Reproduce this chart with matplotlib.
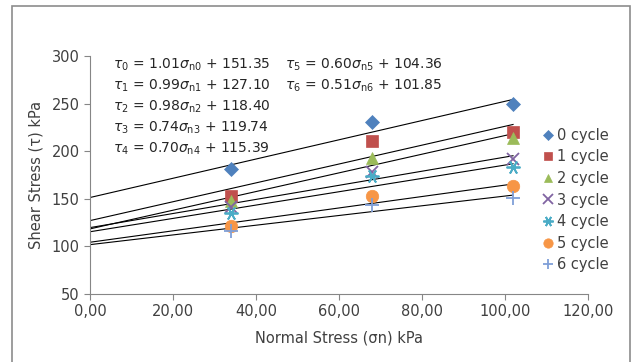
import numpy as np
import matplotlib
matplotlib.use("Agg")
import matplotlib.pyplot as plt
from matplotlib.patches import Rectangle
from matplotlib.ticker import FuncFormatter

plt.rcParams["font.family"] = ["DejaVu Sans"]
plt.rcParams["mathtext.fontset"] = "dejavusans"

# normal stress (kPa) and shear stress per cycle count
sigma_n = [34, 68, 102]
cycles = ["0 cycle", "1 cycle", "2 cycle", "3 cycle", "4 cycle", "5 cycle", "6 cycle"]
tau = [
    [181, 231, 250],
    [153, 211, 220.5],
    [148, 193, 214],
    [141, 178, 191.5],
    [135, 174, 183],
    [121, 153, 163],
    [116, 144, 151],
]
# linear fits tau = a * sigma_n + b
slopes = [1.01, 0.99, 0.98, 0.74, 0.70, 0.60, 0.51]
intercepts = [151.35, 127.10, 118.40, 119.74, 115.39, 104.36, 101.85]

colors = ["#4f81bd", "#c0504d", "#9bbb59", "#8064a2", "#4bacc6", "#f79646", "#7f9fd8"]
markers = ["D", "s", "^", "x", (6, 2, 90), "o", "+"]
sizes = [7, 8.5, 8.5, 9, 10, 9, 10]

fig = plt.figure(figsize=(6.36, 3.62), dpi=100)
fig.patches.append(Rectangle((12 / 636, -0.01), 618 / 636, 1 - 6 / 362 + 0.01,
                             transform=fig.transFigure, fill=False,
                             edgecolor="#8c8c8c", linewidth=1.2))
ax = fig.add_axes([90 / 636, 1 - 294 / 362, 497.7 / 636, 238 / 362])

grey = "#868686"
for i, name in enumerate(cycles):
    mk = markers[i]
    filled = mk in ("D", "s", "^", "o")
    ax.plot(sigma_n, tau[i], linestyle="none", marker=mk, markersize=sizes[i],
            color=colors[i], markeredgewidth=0.5 if filled else 1.3,
            label=name, zorder=3)

xs = np.array([0, max(sigma_n)])
for a, b in zip(slopes, intercepts):
    ax.plot(xs, a * xs + b, color="black", linewidth=0.8, zorder=2)

ax.set_xlim(0, 120)
ax.set_ylim(50, 300)
ax.set_xticks(np.arange(0, 121, 20))
ax.set_yticks(np.arange(50, 301, 50))
ax.xaxis.set_major_formatter(FuncFormatter(lambda v, p: f"{v:.2f}".replace(".", ",")))
for s in ["top", "right"]:
    ax.spines[s].set_visible(False)
for s in ["left", "bottom"]:
    ax.spines[s].set_color(grey)
ax.tick_params(colors=grey, labelcolor="#404040", labelsize=10.5, length=4)

ax.set_xlabel("Normal Stress (σn) kPa", fontsize=10.5, color="#404040", labelpad=8)
ax.set_ylabel("Shear Stress (τ) kPa", fontsize=10.5, color="#404040", labelpad=6)

# regression equations
eq_pos = [(113, 65), (113, 86), (113, 107), (113, 128), (113, 149), (285, 65), (285, 86)]
for i, ((px, py), a, b) in enumerate(zip(eq_pos, slopes, intercepts)):
    txt = rf"$\tau_{i}$ = {a:.2f}$\sigma_{{\mathrm{{n{i}}}}}$ + {b:.2f}"
    fig.text(px / 636, 1 - py / 362, txt, fontsize=10, color="#262626",
             ha="left", va="center")

leg = ax.legend(loc="upper left", bbox_to_anchor=(538 / 636, 1 - 122 / 362),
                bbox_transform=fig.transFigure, frameon=False, fontsize=10.5,
                handlelength=0.6, handletextpad=0.3, labelspacing=0.45,
                borderaxespad=0, markerscale=0.75)
for t in leg.get_texts():
    t.set_color("#404040")

fig.savefig("out.png", dpi=100)
